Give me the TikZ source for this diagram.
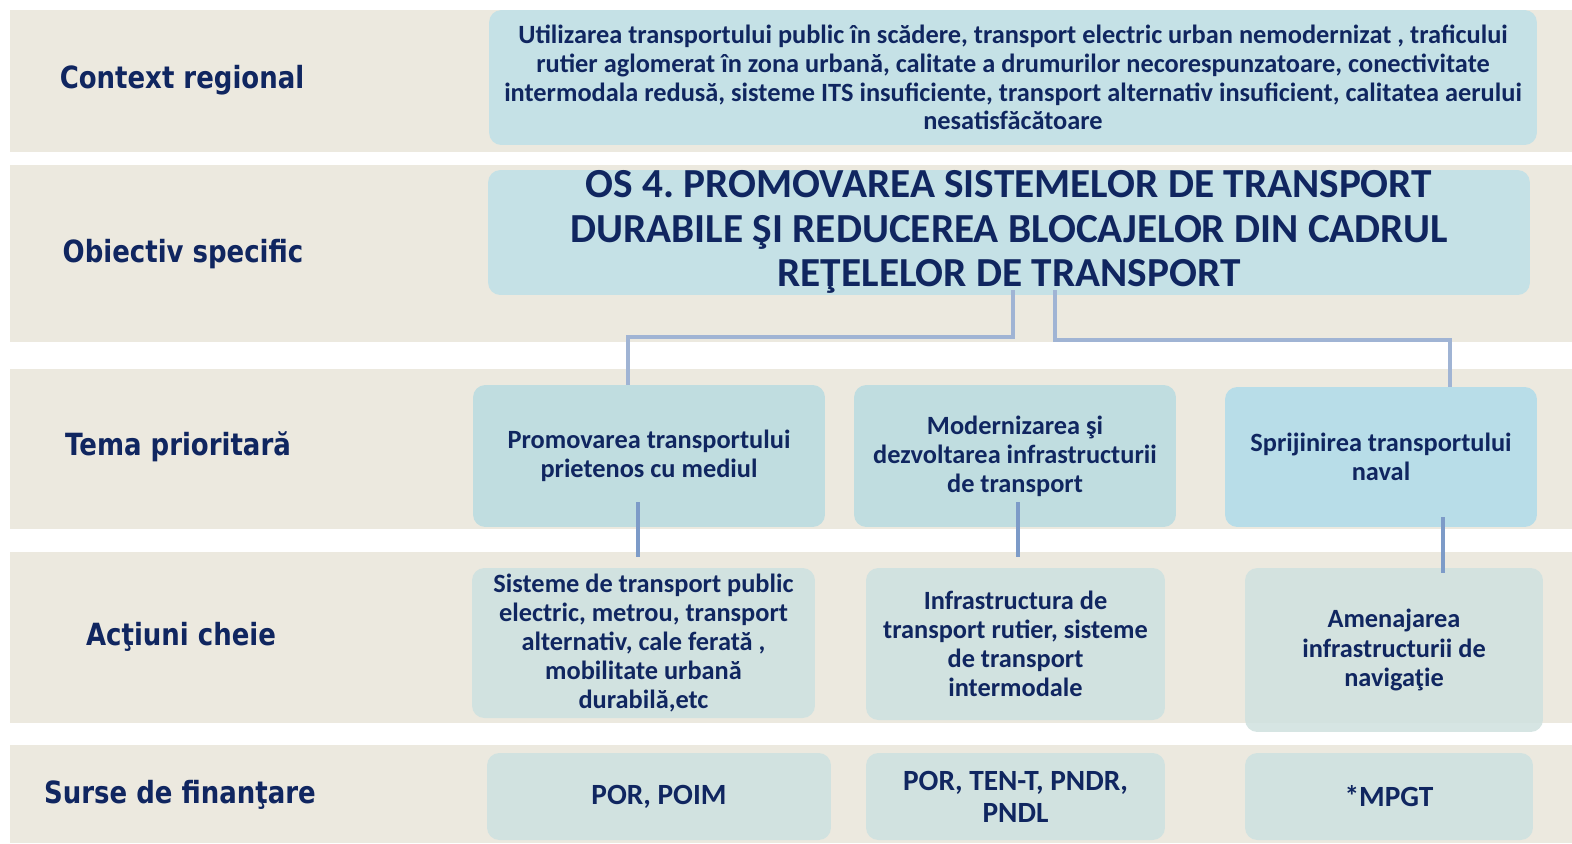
\documentclass[tikz,border=0pt]{standalone}
\usepackage{fontspec}
\setmainfont{Carlito}
\newfontfamily\rowFont[FakeStretch=0.85]{DejaVu Sans}
\usepackage{tikz}
\usetikzlibrary{positioning}
\usetikzlibrary{calc}
\frenchspacing

\definecolor{bandBeige}{RGB}{236,233,223}
\definecolor{navyText}{RGB}{16,38,96}
\definecolor{contextBlue}{RGB}{197,225,230}
\definecolor{themeBlue}{RGB}{192,221,224}
\definecolor{navalBlue}{RGB}{184,221,232}
\definecolor{actionGreen}{RGB}{209,226,224}
\definecolor{topLinkBlue}{RGB}{160,180,212}
\definecolor{lowLinkBlue}{RGB}{125,155,200}

\begin{document}
\begin{tikzpicture}[x = 0.02cm, y = -0.02cm,
                    bandRow/.style   = {rectangle, fill = bandBeige, inner sep = 0pt, minimum width = 31.24cm},
                    rowLabel/.style  = {text = navyText, font = {\rowFont\bfseries\fontsize{17.4}{20}\selectfont}},
                    infoBox/.style   = {rectangle, rounded corners = 7pt, inner sep = 2pt, align = center, text = navyText,
                                        font = {\bfseries\fontsize{15}{16.6}\selectfont}},
                    fundBox/.style   = {infoBox, fill = actionGreen, minimum height = 1.74cm,
                                        font = {\bfseries\fontsize{16.7}{18.2}\selectfont}},
                    topLink/.style   = {draw = topLinkBlue, line width = 2.2pt},
                    lowLink/.style   = {draw = lowLinkBlue, line width = 1.8pt}]
    \useasboundingbox (0,0) rectangle (1572,843);

    % background rows
    \node [bandRow, minimum height = 2.84cm] (band1) at (791, 81)    {};
    \node [bandRow, minimum height = 3.54cm] (band2) at (791, 253.5) {};
    \node [bandRow, minimum height = 3.20cm] (band3) at (791, 449)   {};
    \node [bandRow, minimum height = 3.42cm] (band4) at (791, 637.5) {};
    \node [bandRow, minimum height = 1.96cm] (band5) at (791, 794)   {};

    % row labels
    \node [rowLabel] (labelContext)   at (182, 80)  {Context regional};
    \node [rowLabel] (labelObjective) at (183, 254) {Obiectiv specific};
    \node [rowLabel] (labelTheme)     at (178, 447) {Tema prioritară};
    \node [rowLabel] (labelAction)    at (181, 637) {Acţiuni cheie};
    \node [rowLabel] (labelFunding)   at (180, 795) {Surse de finanţare};

    % context and objective
    \node [infoBox, fill = contextBlue, minimum width = 20.96cm, minimum height = 2.7cm,
           font = {\bfseries\fontsize{15}{16.4}\selectfont}] (context) at (1013, 77.5)
          {Utilizarea transportului public în scădere, transport electric urban nemodernizat , traficului\\
           rutier aglomerat în zona urbană, calitate  a drumurilor necorespunzatoare, conectivitate\\
           intermodala redusă, sisteme ITS insuficiente, transport alternativ insuficient,  calitatea aerului\\
           nesatisfăcătoare};
    \node [infoBox, fill = contextBlue, minimum width = 20.84cm, minimum height = 2.5cm] (objective) at (1009, 232.5) {};
    \node [text = navyText, align = center, font = {\bfseries\fontsize{23.5}{25.5}\selectfont}] (objectiveText) at (1009, 232)
          {OS 4. PROMOVAREA SISTEMELOR DE TRANSPORT\\
           DURABILE ŞI REDUCEREA BLOCAJELOR DIN CADRUL\\
           REŢELELOR DE TRANSPORT};

    % priority themes
    \node [infoBox, fill = themeBlue, minimum width = 7.04cm, minimum height = 2.84cm] (theme1) at (649, 456)
          {Promovarea transportului\\ prietenos cu mediul};
    \node [infoBox, fill = themeBlue, minimum width = 6.44cm, minimum height = 2.84cm] (theme2) at (1015, 456)
          {Modernizarea şi\\ dezvoltarea infrastructurii\\ de transport};
    \node [infoBox, fill = navalBlue, minimum width = 6.24cm, minimum height = 2.80cm] (theme3) at (1381, 457)
          {Sprijinirea transportului\\ naval};

    % key actions
    \node [infoBox, fill = actionGreen, minimum width = 6.86cm, minimum height = 3.00cm] (action1) at (643.5, 643)
          {Sisteme de transport public\\ electric, metrou, transport\\ alternativ, cale ferată ,\\ mobilitate urbană\\ durabilă,etc};
    \node [infoBox, fill = actionGreen, minimum width = 5.98cm, minimum height = 3.04cm] (action2) at (1015.5, 644)
          {Infrastructura de\\ transport rutier, sisteme\\ de transport\\ intermodale};
    \node [infoBox, fill = actionGreen, fill opacity = .9, text opacity = 1, minimum width = 5.96cm, minimum height = 3.28cm] (action3) at (1394, 650)
          {Amenajarea\\ infrastructurii de\\ navigaţie};

    % funding
    \node [fundBox, minimum width = 6.88cm] (fund1) at (659, 796.5)    {POR, POIM};
    \node [fundBox, minimum width = 5.98cm] (fund2) at (1015.5, 796.5) {POR, TEN-T, PNDR,\\ PNDL};
    \node [fundBox, minimum width = 5.76cm] (fund3) at (1389, 796.5)   {*MPGT};

    % connectors
    \draw [topLink] ($(objective.south)+(4,-5)$)  -- ++(0,47) -| ($(theme1.north)+(-21,0)$);
    \draw [topLink] ($(objective.south)+(46,-5)$) -- ++(0,50) -| ($(theme3.north)+(69,0)$);
    \draw [lowLink] ($(theme1.south)+(-11,-25)$) -- ($(theme1.south |- action1.north)+(-11,-11)$);
    \draw [lowLink] ($(theme2.south)+(3,-25)$)   -- ($(theme2.south |- action2.north)+(3,-11)$);
    \draw [lowLink] ($(theme3.south)+(62,-10)$)  -- ($(theme3.south |- action3.north)+(62,5)$);
\end{tikzpicture}
\end{document}
